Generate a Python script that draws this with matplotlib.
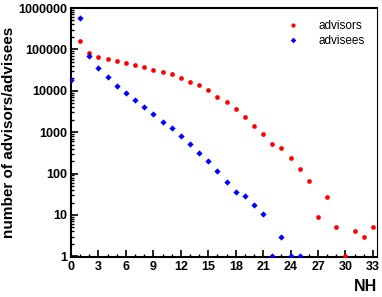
import numpy as np
import matplotlib
matplotlib.use("Agg")
import matplotlib.pyplot as plt
from matplotlib.ticker import FixedLocator, LogLocator, MultipleLocator, NullFormatter

plt.rcParams['font.family'] = ['Liberation Sans', 'DejaVu Sans']

# data
nh_advisors = list(range(1, 34))
advisors = [160000, 81000, 67000, 59000, 53000, 47000, 42000, 37000, 32000, 28000,
            25000, 20000, 16500, 13700, 10500, 6900, 5300, 3700, 2350, 1400,
            890, 510, 410, 234, 132, 67, 9, 27, 5, 1, 4, 3, 5]
nh_advisees = list(range(0, 26))
advisees = [18000, 560000, 71000, 35000, 21000, 13400, 8800, 6000, 4000, 2750,
            1780, 1260, 790, 510, 310, 200, 116, 64, 36, 28,
            17.6, 10.5, 1, 3, 1, 1]
ytick_vals = [1, 10, 100, 1000, 10000, 100000, 1000000]
ytick_labels = ["1", "10", "100", "1000", "10000", "100000", "1000000"]
xtick_vals = [0, 3, 6, 9, 12, 15, 18, 21, 24, 27, 30, 33]

fig = plt.figure(figsize=(3.82, 2.97), dpi=100)
ax = fig.add_axes([0.186, 0.135, 0.801, 0.838])

for side in ['left', 'bottom', 'top']:
    ax.spines[side].set_linewidth(1.5)
ax.spines['right'].set_linewidth(0.8)

ax.plot(nh_advisors, advisors, linestyle='none', marker='o', markersize=3.4,
        color='#ff0000', markeredgewidth=0, label='advisors', zorder=3)
ax.plot(nh_advisees, advisees, linestyle='none', marker='D', markersize=3.2,
        color='#0000ff', markeredgewidth=0, label='advisees', zorder=3)

ax.set_yscale('log')
ax.set_ylim(0.97, 1000000)
ax.set_xlim(0, 33.45)

ax.yaxis.set_major_locator(FixedLocator(ytick_vals))
ax.set_yticklabels(ytick_labels)
ax.yaxis.set_minor_locator(LogLocator(base=10, subs=np.arange(2, 10), numticks=20))
ax.yaxis.set_minor_formatter(NullFormatter())
ax.set_xticks(xtick_vals)
ax.xaxis.set_minor_locator(MultipleLocator(1))

ax.tick_params(which='major', direction='in', length=5, width=1.2, labelsize=9, pad=3,
               top=False, right=False)
ax.tick_params(which='minor', direction='in', length=2.5, width=1, top=False, right=False)
for lab in ax.get_xticklabels() + ax.get_yticklabels():
    lab.set_fontweight('bold')

ax.set_ylabel('number of advisors/advisees', fontsize=11, fontweight='bold', labelpad=1)
ax.set_xlabel('NH', fontsize=11.5, fontweight='bold', loc='right', labelpad=4)

ax.legend(loc='upper right', frameon=False, fontsize=8.5, handletextpad=1.2,
          borderaxespad=0.6, labelspacing=0.3, markerscale=0.9)

fig.savefig('out.png', dpi=100)
